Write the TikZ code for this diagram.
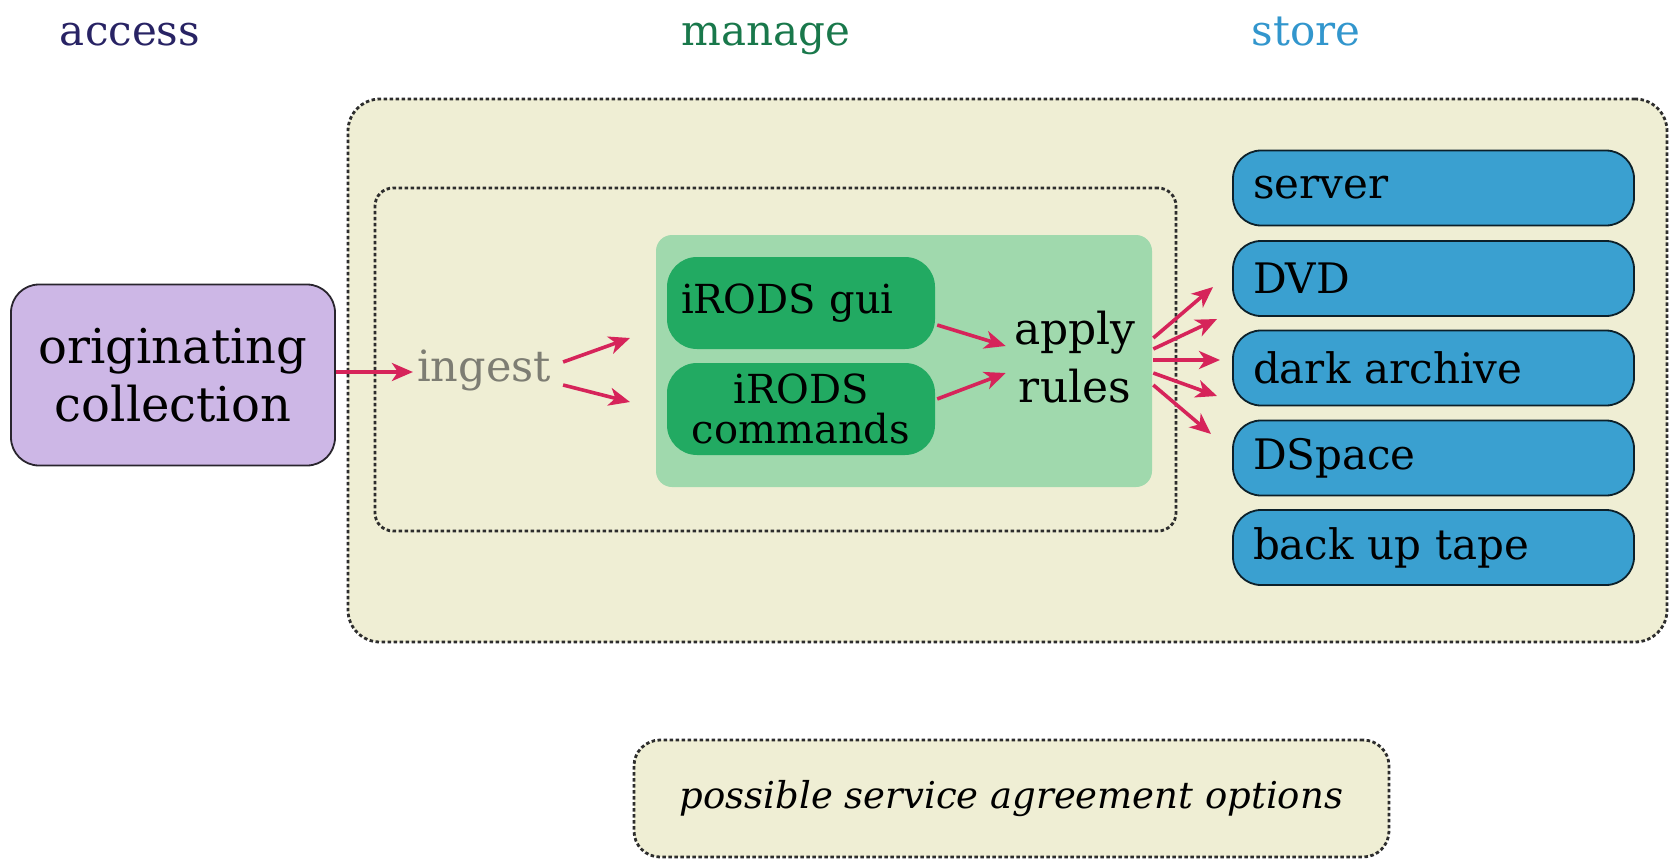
\documentclass[tikz,border=0pt]{standalone}
\usepackage{fontspec}
\setmainfont{DejaVu Serif}
\usetikzlibrary{arrows.meta}
\definecolor{cAccess}{RGB}{40,35,100}
\definecolor{cManage}{RGB}{25,120,75}
\definecolor{cStore}{RGB}{50,150,205}
\definecolor{cBeige}{RGB}{239,238,212}
\definecolor{cLightGreen}{RGB}{160,217,173}
\definecolor{cGreen}{RGB}{34,170,98}
\definecolor{cBlue}{RGB}{58,160,208}
\definecolor{cPurple}{RGB}{205,183,230}
\definecolor{cArrow}{RGB}{214,36,90}
\definecolor{cGray}{RGB}{125,125,115}
\definecolor{cDash}{RGB}{45,45,45}
\tikzset{
  dashbox/.style={draw=cDash, fill=cBeige, line width=2.8pt, dash pattern=on 3.5pt off 2.5pt, rounded corners=#1},
  bluebox/.style={draw=black!80!cBlue, fill=cBlue, line width=1.8pt, rounded corners=28pt,
    minimum width=401pt, minimum height=75pt, text width=361pt, inner xsep=20pt, align=left,
    font=\fontsize{42}{50}\selectfont},
  greenbox/.style={fill=cGreen, rounded corners=30pt, minimum width=268pt, minimum height=92pt,
    font=\fontsize{40}{42}\selectfont},
  arr/.style={draw=cArrow, line width=3.6pt, -{Stealth[length=21pt,width=18pt,inset=6pt]}},
  hdr/.style={font=\fontsize{42}{48}\selectfont, anchor=base}
}
\begin{document}
\begin{tikzpicture}[x=1pt,y=-1pt]
\useasboundingbox (0,0) rectangle (1669,859);
% headers
\node[hdr, text=cAccess] (hAccess) at (130,46) {access};
\node[hdr, text=cManage] (hManage) at (766,46) {manage};
\node[hdr, text=cStore] (hStore) at (1306,46) {store};
% outer box
\node[dashbox=32pt, minimum width=1319pt, minimum height=543pt] (outer) at (1007.5,370.5) {};
% inner box
\node[dashbox=18pt, minimum width=801pt, minimum height=343pt] (inner) at (775.5,359.5) {};
% light green box
\node[fill=cLightGreen, rounded corners=16pt, minimum width=496pt, minimum height=252pt] (lg) at (904,361) {};
% green boxes
\node[greenbox, text width=240pt, align=left] (gui) at (801,303) {iRODS gui};
\node[greenbox, align=center] (cmd) at (801,409) {iRODS\\[-2pt]commands};
% apply rules
\node[font=\fontsize{44}{58}\selectfont, align=center] (apply) at (1075,357) {apply\\rules};
% originating collection
\node[draw=black!80!cPurple, fill=cPurple, line width=1.8pt, rounded corners=28pt,
  minimum width=324pt, minimum height=181pt, align=center,
  font=\fontsize{48}{58}\selectfont] (orig) at (173,375) {originating\\collection};
% ingest
\node[text=cGray, font=\fontsize{43}{50}\selectfont, inner sep=4pt] (ingest) at (484,370) {ingest};
% blue boxes
\node[bluebox] (server) at (1433.5,188) {server};
\node[bluebox] (dvd) at (1433.5,278.5) {DVD};
\node[bluebox] (dark) at (1433.5,368) {dark archive};
\node[bluebox] (dspace) at (1433.5,458) {DSpace};
\node[bluebox] (tape) at (1433.5,547.5) {back up tape};
% bottom box
\node[dashbox=26pt, minimum width=755pt, minimum height=117pt,
  font=\fontsize{37}{44}\selectfont\itshape] (sla) at (1011.5,798.5) {possible service agreement options};
% connector end points
\coordinate (i1) at (630,338);
\coordinate (i2) at (630,402);
\coordinate (f1) at (1213,287);
\coordinate (f2) at (1217,319);
\coordinate (f3) at (1220,360);
\coordinate (f4) at (1217,396);
\coordinate (f5) at (1211,434);
% arrows
\draw[arr] (orig.east |- 0,372) -- (ingest.west |- 0,372);
\draw[arr] ([shift={(8,-8)}]ingest.east) -- (i1);
\draw[arr] ([shift={(8,15)}]ingest.east) -- (i2);
\draw[arr] ([shift={(2,22)}]gui.east) -- ([shift={(-5,-11)}]apply.west);
\draw[arr] ([shift={(2,-10)}]cmd.east) -- ([shift={(-5,16)}]apply.west);
\draw[arr] ([shift={(14,-19)}]apply.east) -- (f1);
\draw[arr] ([shift={(14,-8)}]apply.east) -- (f2);
\draw[arr] ([shift={(14,3)}]apply.east) -- (f3);
\draw[arr] ([shift={(14,16)}]apply.east) -- (f4);
\draw[arr] ([shift={(14,28)}]apply.east) -- (f5);
\end{tikzpicture}
\end{document}
